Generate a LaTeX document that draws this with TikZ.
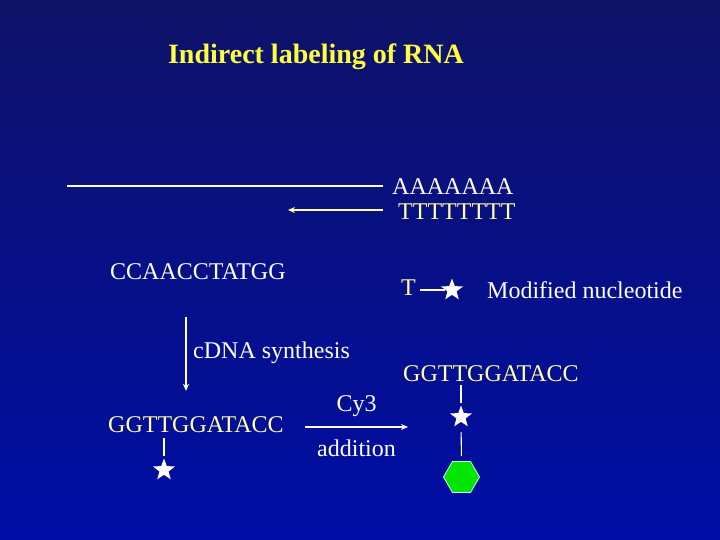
\documentclass[tikz,border=0pt]{standalone}
\usepackage{fontspec}
\setmainfont{Liberation Serif}
\usetikzlibrary{arrows.meta,shapes.geometric}
\definecolor{bgT}{RGB}{14,18,104}
\definecolor{bgB}{RGB}{0,14,166}
\definecolor{ttlY}{RGB}{255,255,64}
\definecolor{seqY}{RGB}{255,255,165}
\definecolor{cyG}{RGB}{0,230,0}

\begin{document}
\begin{tikzpicture}[x=1pt,y=-1pt,>={Stealth[length=7pt,width=6pt]},
  seq/.style={font=\fontsize{24}{28}\selectfont,inner sep=0pt,anchor=base west},
  nstar/.style={star,star points=5,star point ratio=2.4,fill=white,inner sep=0pt,minimum size=23pt},
  wline/.style={white,line width=1.1pt},
  warr/.style={white,line width=1.3pt,->}]
\shade[top color=bgT,bottom color=bgB] (0,0) rectangle (720,540);
\node[font=\fontsize{28}{32}\selectfont\bfseries,text=ttlY,anchor=base,inner sep=0pt] (title) at (316,64) {Indirect labeling of RNA};
% mRNA with oligo-dT primer
\node[seq,text=white] (polyA) at (392,195) {AAAAAAA};
\node[seq,text=seqY] (oligoT) at (398,219) {TTTTTTTT};
\coordinate (rna5) at (67,186); \coordinate (prim) at (288,210);
\draw[wline,shorten >=9pt] (rna5) -- (rna5 -| polyA.west);
\draw[seqY,line width=1.6pt,->,shorten <=15pt] (oligoT.west |- prim) -- (prim);
\node[seq,text=white] (rnaseq) at (110,279) {CCAACCTATGG};
% legend
\node[seq,text=seqY] (legT) at (401,295) {T};
\node[nstar] (legS) at (452,290) {};
\node[seq,text=white] (legTxt) at (487,298) {Modified nucleotide};
\draw[wline,shorten <=4pt] (legT.east |- legS) -- (legS.west);
% cDNA synthesis
\coordinate (vx) at (186,0);
\node[seq,text=seqY] (cdnaL) at (108,432) {GGTTGGATACC};
\draw[warr,shorten <=38pt,shorten >=25pt] (rnaseq.south -| vx) -- (cdnaL.north -| vx);
\node[seq,text=white] (synth) at (193,358) {cDNA synthesis};
\node[nstar] (starL) at (164,470) {};
\draw[wline,shorten <=6pt,shorten >=2pt] (cdnaL.south -| starL) -- (starL.north);
% Cy3 addition
\coordinate (cyA) at (305,427); \coordinate (cyB) at (408,427);
\draw[warr] (cyA) -- (cyB)
  node[midway,above=10pt,font=\fontsize{24}{28}\selectfont,text=white,inner sep=0pt] (cy) {Cy3}
  node[midway,below=12pt,font=\fontsize{24}{28}\selectfont,text=white,inner sep=0pt] (addn) {addition};
\node[seq,text=seqY] (cdnaR) at (403,381) {GGTTGGATACC};
\node[nstar] (starR) at (461,417) {};
\node[regular polygon,regular polygon sides=6,minimum size=36pt,inner sep=0pt,
  fill=cyG,draw={rgb,255:red,190;green,255;blue,210},line width=0.8pt] (dye) at (461.5,477) {};
\draw[wline,shorten <=4pt,shorten >=2pt] (cdnaR.south -| starR) -- (starR.north);
\draw[wline,shorten <=10pt,shorten >=5pt] (starR.south) -- (dye.north);
\end{tikzpicture}
\end{document}
